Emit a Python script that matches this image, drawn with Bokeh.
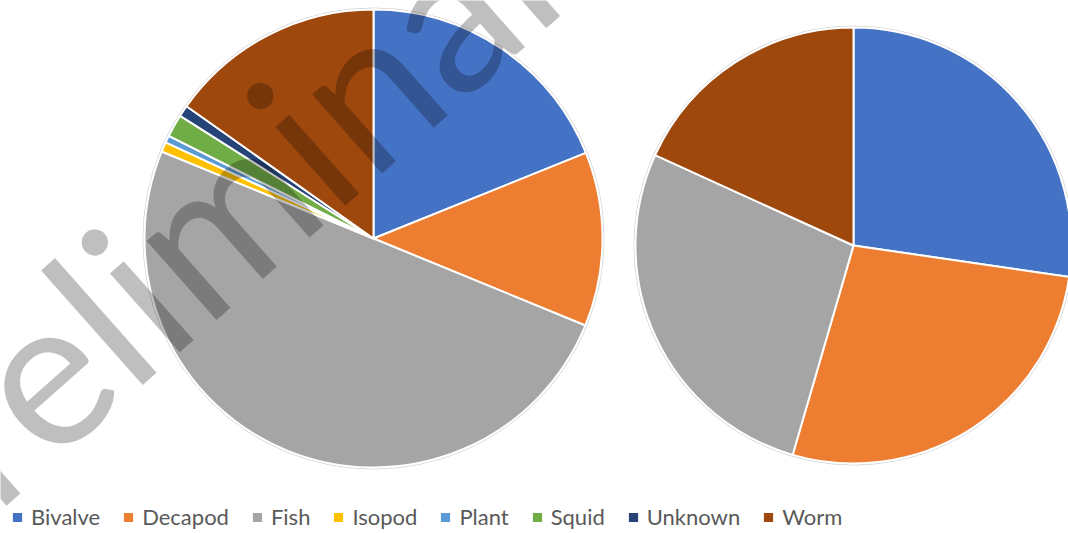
import math
import numpy as np
from bokeh.plotting import figure
from bokeh.models import ColumnDataSource, Range1d, Legend, LegendItem
from bokeh.core.properties import value
from bokeh.embed import file_html
from bokeh.resources import INLINE

# ---- data (percent shares) ----
categories = ["Bivalve", "Decapod", "Fish", "Isopod", "Plant", "Squid", "Unknown", "Worm"]
colors = ["#4472C4", "#ED7D31", "#A5A5A5", "#FFC000", "#5B9BD5", "#70AD47", "#264478", "#9E480E"]
left_values = [18.9, 12.3, 50.0, 0.7, 0.5, 1.6, 0.8, 15.2]
right_values = [27.3, 27.2, 27.3, 0.0, 0.0, 0.0, 0.0, 18.2]

W, H = 1068, 533
p = figure(width=W, height=H, output_backend="svg", toolbar_location=None,
           x_range=Range1d(0, W), y_range=Range1d(0, H),
           x_axis_type=None, y_axis_type=None, min_border=0)
p.grid.visible = False
p.outline_line_color = None
p.background_fill_color = "white"
p.border_fill_color = "white"


def pie_source(vals, cx, cy, r):
    v = np.asarray(vals, dtype=float)
    frac = v / v.sum()
    cum = np.concatenate([[0.0], np.cumsum(frac)])
    start = math.pi / 2 - 2 * math.pi * cum[1:]
    end = math.pi / 2 - 2 * math.pi * cum[:-1]
    keep = v > 0  # zero-size slices are not drawn
    n = int(keep.sum())
    return ColumnDataSource(dict(cat=[c for c, k in zip(categories, keep) if k],
                                 color=[c for c, k in zip(colors, keep) if k],
                                 val=list(v[keep]),
                                 x=[cx] * n, y=[cy] * n, r=[r] * n,
                                 start=list(start[keep]), end=list(end[keep])))


# pie layout (pixels)
LCX, LCY, LR = 373, H - 238, 229
RCX, RCY, RR = 853, H - 245, 218

for cx, cy, rr in [(LCX, LCY, LR), (RCX, RCY, RR)]:
    p.circle(x=[cx], y=[cy], radius=rr + 1.5, fill_color=None,
             line_color="#d4d4d4", line_width=1)

src_l = pie_source(left_values, LCX, LCY, LR)
src_r = pie_source(right_values, RCX, RCY, RR)
r_left = p.wedge(x="x", y="y", radius="r", start_angle="start", end_angle="end",
                 fill_color="color", line_color="white", line_width=2, source=src_l)
r_right = p.wedge(x="x", y="y", radius="r", start_angle="start", end_angle="end",
                  fill_color="color", line_color="white", line_width=2, source=src_r)

# watermark
p.text(x=[234], y=[H - 196], text=["Preliminary"], angle=math.radians(41.5),
       text_align="center", text_baseline="alphabetic",
       text_font=value("Lato"), text_font_size="208px",
       text_color="black", text_alpha=0.25)

items = [LegendItem(label=c, renderers=[r_left], index=i) for i, c in enumerate(categories)]
legend = Legend(items=items, orientation="horizontal", location=(10, 3),
                background_fill_alpha=0, border_line_color=None,
                label_text_font="Lato", label_text_font_size="22px",
                label_text_color="#595959", glyph_width=14, glyph_height=14,
                label_standoff=7, spacing=21, padding=0, margin=0)
p.add_layout(legend)

open("out.html", "w").write(file_html(p, INLINE))
